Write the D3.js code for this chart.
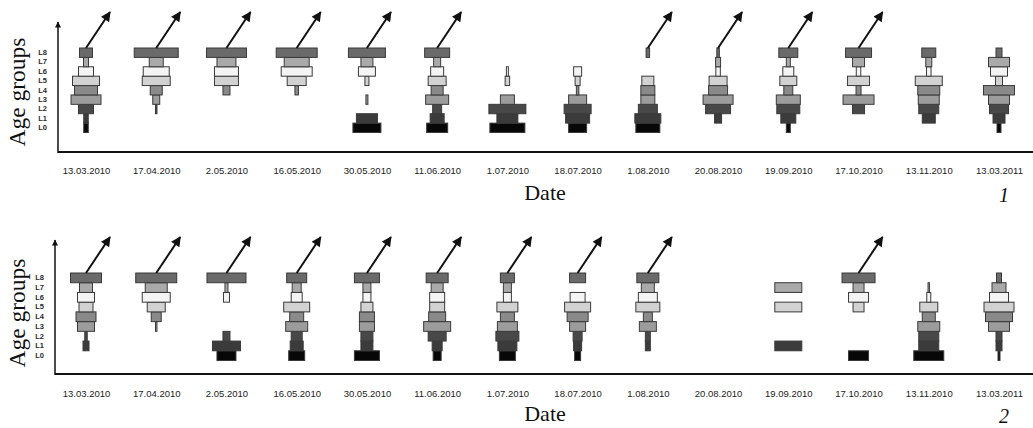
<!DOCTYPE html>
<html>
<head>
<meta charset="utf-8">
<script src="https://cdn.jsdelivr.net/npm/d3@7"></script>
<style>
  html, body { margin: 0; padding: 0; background: #fff; }
  svg { display: block; }
  .bar { stroke: #3a3a3a; stroke-width: 1; }
  .axis-line { stroke: #111; stroke-width: 2; fill: none; }
  .migr { stroke: #111; stroke-width: 2; fill: none; }
  .date-axis text { font-family: Arial, 'Liberation Sans', sans-serif; font-size: 9.5px; fill: #222; }
  .level-axis { opacity: 0.999; }
  .level-axis text { font-family: Arial, 'Liberation Sans', sans-serif; font-size: 7.5px; font-weight: bold; fill: #2a2a2a; }
  .title { font-family: 'Liberation Serif', 'Times New Roman', serif; fill: #111; }
</style>
</head>
<body>
<div id="chart"></div>
<script>
// sampling dates (shared by both panels)
var dates = ['13.03.2010', '17.04.2010', '2.05.2010', '16.05.2010', '30.05.2010',
  '11.06.2010', '1.07.2010', '18.07.2010', '1.08.2010', '20.08.2010',
  '19.09.2010', '17.10.2010', '13.11.2010', '13.03.2011'];

var levels = ['L0', 'L1', 'L2', 'L3', 'L4', 'L5', 'L6', 'L7', 'L8'];

// relative abundance per age group, L0..L8, one row per date
var panel1Values = [
  [4.5, 4.5, 15, 30, 23, 27, 15, 5, 13],
  [0, 0, 1.5, 7, 12, 28, 26, 14, 44],
  [0, 0, 0, 0, 7, 24, 24, 19, 40],
  [0, 0, 0, 0, 3.5, 19, 31, 25, 41],
  [28, 21, 0, 2, 0, 4, 17, 12, 37],
  [21, 14, 9, 23, 12, 18, 13, 7, 25],
  [35, 21, 37, 14, 0, 4.5, 2, 0, 0],
  [18, 24, 27, 18, 2.5, 5, 8, 0, 0],
  [24, 26, 19, 14, 14, 12, 0, 0, 3.5],
  [0, 7, 25, 30, 19, 18, 4.5, 5, 2.5],
  [4, 15, 23, 24, 9, 17, 11, 4, 19],
  [0, 0, 12, 31, 5, 22, 4.5, 12, 26],
  [0, 13, 20, 21, 22, 27, 4.5, 6, 14],
  [4, 12, 19, 21, 31, 7, 17, 21, 6]
];

var panel2Values = [
  [0, 6, 2.5, 17, 20, 14, 17, 13, 31],
  [0, 0, 0, 1.5, 10, 18, 28, 22, 41],
  [19, 28, 7, 0, 0, 0, 6, 3, 39],
  [16, 13, 11, 22, 14, 26, 11, 9, 20],
  [25, 12, 12, 15, 15, 12, 8, 8, 25],
  [8, 10, 18, 27, 17, 15, 15, 12, 22],
  [16, 19, 23, 20, 14, 21, 8, 8, 14],
  [6, 8, 9, 16, 21, 26, 15, 0, 16],
  [0, 5, 5, 17, 9, 24, 19, 13, 22],
  [0, 0, 0, 0, 0, 0, 0, 0, 0],
  [0, 27, 0, 0, 0, 27, 0, 27, 0],
  [20, 0, 0, 0, 0, 11, 20, 11, 33],
  [30, 20, 20, 22, 13, 18, 4, 1.5, 0],
  [2, 6, 6, 21, 27, 30, 19, 14, 5]
];

// 1 = emergence of the oldest group (arrow)
var panel1Arrows = [1, 1, 1, 1, 1, 1, 0, 0, 1, 1, 1, 1, 0, 0];
var panel2Arrows = [1, 1, 1, 1, 1, 1, 1, 1, 1, 0, 0, 1, 0, 0];

var levelColors = ['#070707', '#3b3b3b', '#484848', '#9c9c9c', '#8a8a8a',
  '#d2d2d2', '#f4f4f4', '#a9a9a9', '#6a6a6a'];

var width = 1033, height = 428;

var svg = d3.select('#chart')
  .append('svg')
  .attr('width', width)
  .attr('height', height);

// arrow heads: big for the emergence arrows, small for the y axis
var defs = svg.append('defs');
[['head', 11, 10], ['axisHead', 7, 6]].forEach(function(m) {
  defs.append('marker')
    .attr('id', m[0])
    .attr('markerUnits', 'userSpaceOnUse')
    .attr('viewBox', '0 0 10 10')
    .attr('refX', 9)
    .attr('refY', 5)
    .attr('markerWidth', m[1])
    .attr('markerHeight', m[2])
    .attr('orient', 'auto')
    .append('path')
    .attr('d', 'M0,0 L10,5 L0,10 Z')
    .attr('fill', '#111');
});

var colorScale = d3.scaleOrdinal().domain(levels).range(levelColors);
var widthScale = d3.scaleLinear().domain([0, 40]).range([0, 40]);

var drawPanel = function(cfg) {
  var g = svg.append('g');

  var xScale = d3.scalePoint()
    .domain(dates)
    .range([86, 999]);

  var yScale = d3.scaleBand()
    .domain(levels.slice().reverse())
    .range([cfg.levelTop, cfg.levelBottom])
    .padding(0);

  // axes lines
  g.append('line')
    .attr('class', 'axis-line')
    .attr('x1', cfg.axisX).attr('x2', width)
    .attr('y1', cfg.axisY).attr('y2', cfg.axisY);

  g.append('line')
    .attr('class', 'axis-line')
    .attr('x1', cfg.axisX).attr('x2', cfg.axisX)
    .attr('y1', cfg.axisY + 1).attr('y2', cfg.axisTop)
    .style('stroke-width', 1.5)
    .attr('marker-end', 'url(#axisHead)');

  // tick labels
  var xAxis = d3.axisBottom(xScale).tickSize(0).tickPadding(cfg.datePad);
  g.append('g')
    .attr('class', 'date-axis')
    .attr('transform', `translate(0,${cfg.axisY})`)
    .call(xAxis)
    .call(s => s.select('.domain').remove());

  var yAxis = d3.axisLeft(yScale).tickSize(0).tickPadding(11);
  g.append('g')
    .attr('class', 'level-axis')
    .attr('transform', `translate(${cfg.axisX},0)`)
    .call(yAxis)
    .call(s => s.select('.domain').remove());

  // pyramids
  var rows = [];
  cfg.values.forEach(function(vals, i) {
    vals.forEach(function(v, j) {
      if (v > 0) rows.push({ date: dates[i], level: levels[j], value: v });
    });
  });

  g.append('g')
    .selectAll('rect')
    .data(rows)
    .enter()
    .append('rect')
    .attr('class', 'bar')
    .attr('x', d => xScale(d.date) - widthScale(d.value) / 2)
    .attr('y', d => yScale(d.level))
    .attr('width', d => widthScale(d.value))
    .attr('height', yScale.bandwidth())
    .attr('fill', d => colorScale(d.level));

  // arrows
  g.append('g')
    .selectAll('line')
    .data(dates.filter((d, i) => cfg.arrows[i]))
    .enter()
    .append('line')
    .attr('class', 'migr')
    .attr('x1', d => xScale(d))
    .attr('y1', yScale('L8'))
    .attr('x2', d => xScale(d) + 24)
    .attr('y2', yScale('L8') - 36)
    .attr('marker-end', 'url(#head)');

  // titles
  g.append('text')
    .attr('class', 'title')
    .attr('x', 545)
    .attr('y', cfg.dateTitleY)
    .attr('text-anchor', 'middle')
    .style('font-size', '22px')
    .text('Date');

  g.append('text')
    .attr('class', 'title')
    .attr('transform', `translate(25,${cfg.ageTitleY}) rotate(-90)`)
    .attr('text-anchor', 'middle')
    .style('font-size', '23.5px')
    .text('Age groups');

  g.append('text')
    .attr('class', 'title')
    .attr('x', 1004)
    .attr('y', cfg.dateTitleY + 2)
    .attr('text-anchor', 'middle')
    .style('font-size', '20px')
    .style('font-style', 'italic')
    .text(cfg.label);
};

drawPanel({
  values: panel1Values,
  arrows: panel1Arrows,
  label: '1',
  axisX: 58,
  axisY: 152,
  axisTop: 22,
  levelTop: 48,
  levelBottom: 132.5,
  datePad: 15,
  dateTitleY: 200,
  ageTitleY: 92
});

drawPanel({
  values: panel2Values,
  arrows: panel2Arrows,
  label: '2',
  axisX: 55,
  axisY: 374,
  axisTop: 240,
  levelTop: 273,
  levelBottom: 360.5,
  datePad: 16,
  dateTitleY: 421,
  ageTitleY: 313
});
</script>
</body>
</html>
